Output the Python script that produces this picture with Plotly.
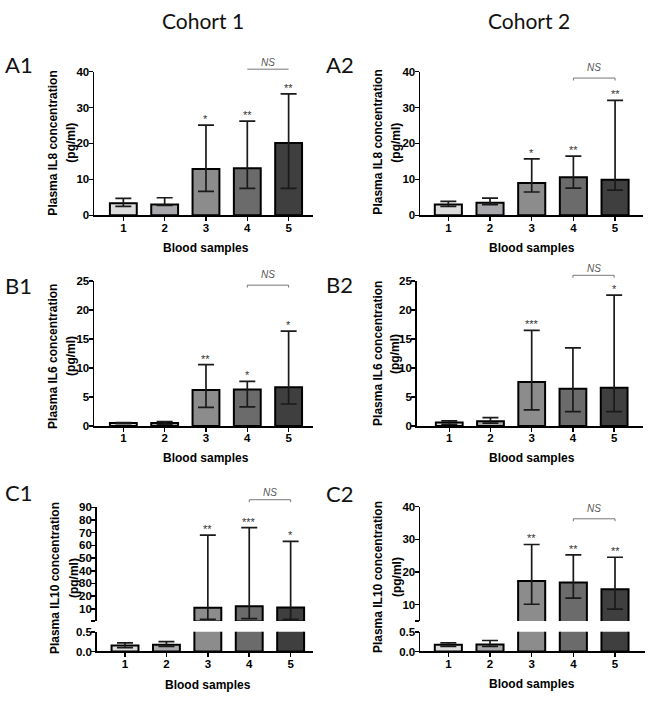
import plotly.graph_objects as go

# ---------------- data ----------------
categories = [1, 2, 3, 4, 5]
tick_labels = ["1", "2", "3", "4", "5"]
bar_colors = ["#dcdcdc", "#a8a8ac", "#8c8c8c", "#6b6b6b", "#3f3f3f"]

# A1: plasma IL8, cohort 1 (median, lower/upper whiskers)
a1_median = [3.4, 3.0, 12.9, 13.1, 20.1]
a1_lower = [2.5, 2.8, 6.7, 7.5, 7.5]
a1_upper = [4.7, 4.9, 25.1, 26.2, 33.8]
a1_sig = ["", "", "*", "**", "**"]

# A2: plasma IL8, cohort 2
a2_median = [3.0, 3.5, 9.0, 10.6, 9.9]
a2_lower = [2.5, 3.0, 6.5, 7.6, 7.0]
a2_upper = [3.9, 4.8, 15.7, 16.5, 32.0]
a2_sig = ["", "", "*", "**", "**"]

# B1: plasma IL6, cohort 1
b1_median = [0.5, 0.5, 6.2, 6.3, 6.7]
b1_lower = [0.4, 0.3, 3.2, 3.3, 3.8]
b1_upper = [0.6, 0.75, 10.6, 7.7, 16.4]
b1_sig = ["", "", "**", "*", "*"]

# B2: plasma IL6, cohort 2
b2_median = [0.6, 0.8, 7.6, 6.45, 6.6]
b2_lower = [0.3, 0.5, 2.8, 2.5, 2.5]
b2_upper = [0.9, 1.45, 16.5, 13.5, 22.6]
b2_sig = ["", "", "***", "", "*"]

# C1: plasma IL10, cohort 1
c1_median = [0.15, 0.17, 10.8, 12.1, 11.0]
c1_lower = [0.1, 0.13, 1.7, 2.3, 1.7]
c1_upper = [0.22, 0.25, 68.1, 74.0, 63.2]
c1_sig = ["", "", "**", "***", "*"]

# C2: plasma IL10, cohort 2
c2_median = [0.17, 0.18, 17.2, 16.8, 14.7]
c2_lower = [0.13, 0.13, 10.1, 12.0, 8.6]
c2_upper = [0.22, 0.28, 28.4, 25.2, 24.5]
c2_sig = ["", "", "**", "**", "**"]

# ---------------- layout helpers ----------------
W, H = 649, 703
ARIAL = "Liberation Sans, Arial, sans-serif"
HEAD = "Lato, Open Sans, sans-serif"


def fx(p):
    return p / W


def fy(p):
    return 1 - p / H


fig = go.Figure()
layout = dict(width=W, height=H, margin=dict(l=0, r=0, t=0, b=0),
              plot_bgcolor="white", paper_bgcolor="white",
              showlegend=False)
annotations = []
shapes = []

axis_common = dict(showline=True, linecolor="black", linewidth=1.5,
                   ticks="outside", ticklen=4, tickwidth=1.5, tickcolor="black",
                   showgrid=False, zeroline=False, fixedrange=True,
                   ticklabelstandoff=-3,
                   tickfont=dict(family=ARIAL, size=11.5, color="black", weight="bold"))


def aid(prefix, n):
    return prefix if n == 1 else f"{prefix}{n}"


def add_bars(n, median, lower, upper, ymin=None):
    # bars whose value lies below a broken segment's floor are left out of that segment
    shown = [m if (ymin is None or m > ymin) else None for m in median]
    fig.add_trace(go.Bar(
        x=categories, y=shown, xaxis=aid("x", n), yaxis=aid("y", n),
        width=0.65,
        marker=dict(color=bar_colors, line=dict(color="black", width=2)),
        error_y=dict(type="data", symmetric=False,
                     array=[u - m for u, m in zip(upper, median)],
                     arrayminus=[m - l for m, l in zip(median, lower)],
                     color="#1a1a1a", thickness=1.7, width=8),
        showlegend=False, hoverinfo="skip"))


def set_axes(n, xdom, ydom, xrange, yrange, tickvals, ticktext, show_x=True):
    xa = dict(axis_common, domain=[fx(xdom[0]), fx(xdom[1])], range=xrange,
              type="linear", tickvals=categories, ticktext=tick_labels,
              anchor=aid("y", n), visible=show_x)
    ya = dict(axis_common, domain=[fy(ydom[1]), fy(ydom[0])], range=yrange,
              tickvals=tickvals, ticktext=ticktext, anchor=aid("x", n))
    layout[aid("xaxis", n)] = xa
    layout[aid("yaxis", n)] = ya


def add_stars(n, upper, sig):
    for c, u, s in zip(categories, upper, sig):
        if s:
            annotations.append(dict(x=c, y=u, xref=aid("x", n), yref=aid("y", n),
                                    text=s, showarrow=False, yanchor="bottom",
                                    yshift=-2,
                                    font=dict(family=ARIAL, size=11, color="#333333")))


def add_ns(n, line_px, text_px, ticks=True):
    y1 = fy(line_px)
    y0 = fy(line_px + 2.5) if ticks else y1
    shapes.append(dict(type="path", xref=aid("x", n), yref="paper",
                       path=f"M 4,{y0} L 4,{y1} L 5,{y1} L 5,{y0}",
                       line=dict(color="#777777", width=1)))
    annotations.append(dict(x=4.5, y=fy(text_px), xref=aid("x", n), yref="paper",
                            text="<i>NS</i>", showarrow=False, yanchor="middle",
                            font=dict(family=ARIAL, size=10, color="#555555")))


def add_ytitle(line1, line2, x1, x2, yc):
    for text, xc in [(line1, x1), (line2, x2)]:
        annotations.append(dict(x=fx(xc), y=fy(yc), xref="paper", yref="paper",
                                text=f"<b>{text}</b>", textangle=-90, showarrow=False,
                                xanchor="center", yanchor="middle",
                                font=dict(family=ARIAL, size=12, color="black")))


def add_xtitle(n, y_px):
    annotations.append(dict(x=3, y=fy(y_px), xref=aid("x", n), yref="paper",
                            text="<b>Blood samples</b>", showarrow=False,
                            xanchor="center", yanchor="middle",
                            font=dict(family=ARIAL, size=12, color="black")))


def add_label(text, x_px, y_px):
    annotations.append(dict(x=fx(x_px), y=fy(y_px), xref="paper", yref="paper",
                            text=text, showarrow=False, xanchor="left", yanchor="middle",
                            font=dict(family=HEAD, size=22, color="#111111")))


# ---------------- panels ----------------
unit = "(pg/ml)"

# A1
add_bars(1, a1_median, a1_lower, a1_upper)
set_axes(1, (94, 313), (66.7, 213), [0.29, 5.59], [0, 40],
         [0, 10, 20, 30, 40], ["0", "10", "20", "30", "40"])
add_stars(1, a1_upper, a1_sig)
add_ns(1, 64.3, 57, ticks=False)
add_ytitle("Plasma IL8 concentration", unit, 53, 71, 139)
add_xtitle(1, 246.7)
add_label("A1", 3, 60)

# A2
add_bars(2, a2_median, a2_lower, a2_upper)
set_axes(2, (420, 643), (66.7, 213), [0.32, 5.67], [0, 40],
         [0, 10, 20, 30, 40], ["0", "10", "20", "30", "40"])
add_stars(2, a2_upper, a2_sig)
add_ns(2, 73.3, 62.3)
add_ytitle("Plasma IL8 concentration", unit, 378, 396, 139)
add_xtitle(2, 246.7)
add_label("A2", 324, 60)

# B1
add_bars(3, b1_median, b1_lower, b1_upper)
set_axes(3, (94, 313), (280, 427.3), [0.29, 5.59], [0, 25],
         [0, 5, 10, 15, 20, 25], ["0", "5", "10", "15", "20", "25"])
add_stars(3, b1_upper, b1_sig)
add_ns(3, 284, 272.7)
add_ytitle("Plasma IL6 concentration", unit, 53, 71, 356)
add_xtitle(3, 460)
add_label("B1", 3, 284)

# B2
add_bars(4, b2_median, b2_lower, b2_upper)
set_axes(4, (416.7, 643), (280, 427.3), [0.21, 5.70], [0, 25],
         [0, 5, 10, 15, 20, 25], ["0", "5", "10", "15", "20", "25"])
add_stars(4, b2_upper, b2_sig)
add_ns(4, 274, 266.7)
add_ytitle("Plasma IL6 concentration", unit, 378, 395, 354)
add_xtitle(4, 460)
add_label("B2", 324, 283.5)

# C1 (broken axis: upper 5, lower 6)
add_bars(5, c1_median, c1_lower, c1_upper, ymin=0.5)
add_bars(6, c1_median, c1_lower, c1_upper)
set_axes(5, (96.7, 313), (510, 625.6), [0.316, 5.54], [0.5, 90],
         [0.5, 10, 20, 30, 40, 50, 60, 70, 80, 90],
         ["", "10", "20", "30", "40", "50", "60", "70", "80", "90"], show_x=False)
set_axes(6, (96.7, 313), (636.7, 656.7), [0.316, 5.54], [0, 0.5],
         [0, 0.5], ["0.0", "0.5"])
add_stars(5, c1_upper, c1_sig)
add_ns(5, 502.3, 495)
add_ytitle("Plasma IL10 concentration", unit, 55, 74, 582)
add_xtitle(6, 691)
add_label("C1", 3, 495)

# C2 (broken axis: upper 7, lower 8)
add_bars(7, c2_median, c2_lower, c2_upper, ymin=5)
add_bars(8, c2_median, c2_lower, c2_upper)
set_axes(7, (420, 645), (509.3, 625.6), [0.32, 5.72], [5, 40],
         [5, 10, 20, 30, 40], ["", "10", "20", "30", "40"], show_x=False)
set_axes(8, (420, 645), (636.7, 656.7), [0.32, 5.72], [0, 0.5],
         [0, 0.5], ["0.0", "0.5"])
add_stars(7, c2_upper, c2_sig)
add_ns(7, 521.7, 511.7)
add_ytitle("Plasma IL10 concentration", unit, 378, 397, 581)
add_xtitle(8, 690)
add_label("C2", 324, 496)

# Cohort headings
for text, xc in [("Cohort 1", 203), ("Cohort 2", 529)]:
    annotations.append(dict(x=fx(xc), y=fy(15), xref="paper", yref="paper",
                            text=text, showarrow=False, xanchor="center", yanchor="middle",
                            font=dict(family=HEAD, size=21, color="#111111")))

layout["annotations"] = annotations
layout["shapes"] = shapes
fig.update_layout(**layout)

fig.write_html("out.html", config={"displayModeBar": False, "staticPlot": True},
               post_script="document.body.style.margin='0';document.body.style.overflow='hidden';")
